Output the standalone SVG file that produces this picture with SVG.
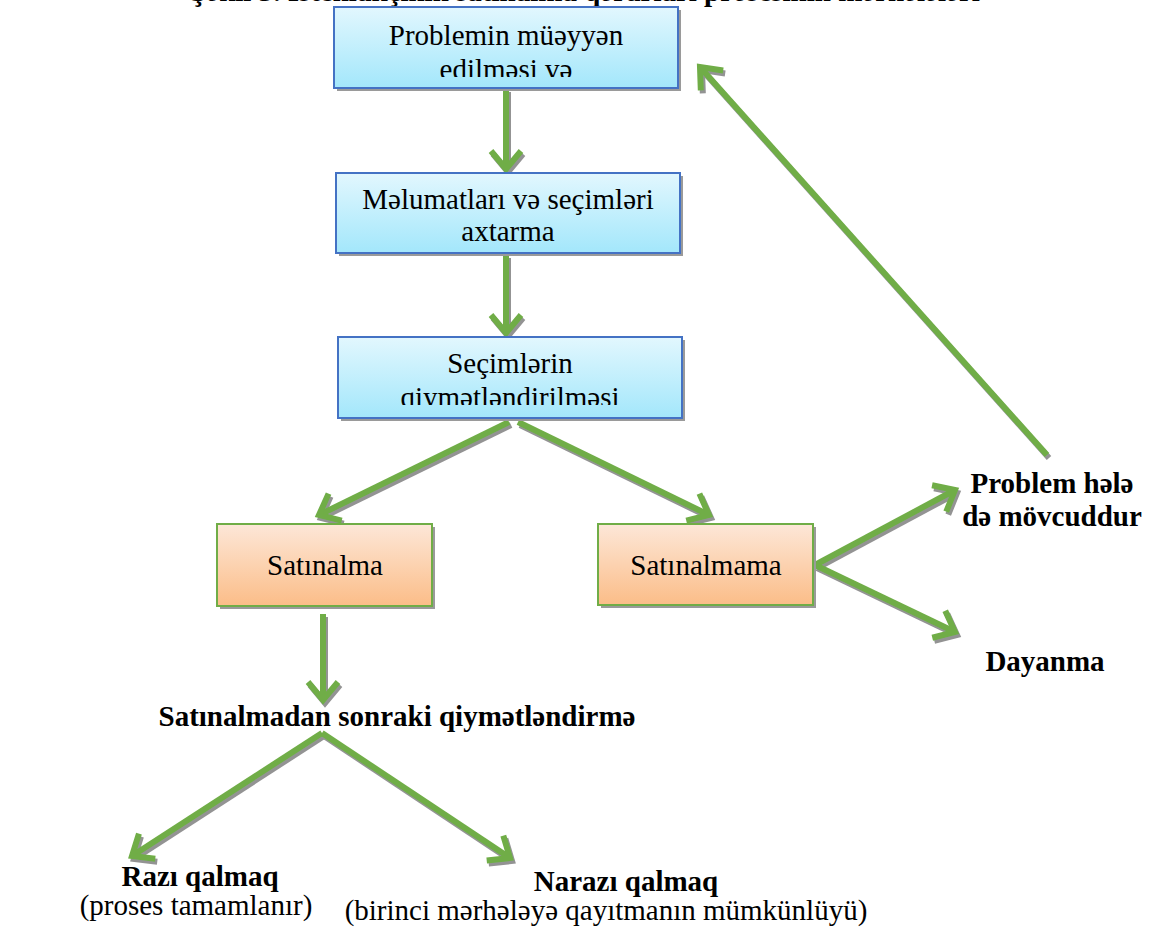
<svg xmlns="http://www.w3.org/2000/svg" width="1155" height="929" viewBox="0 0 1155 929">
<style>
.t{font-family:"Times New Roman","Liberation Serif","DejaVu Serif",serif;font-size:29px;font-weight:400;fill:#000;text-anchor:middle}
.b{font-weight:700}
.blue{fill:url(#gBlue);stroke:#4472c4;stroke-width:2}
.orange{fill:url(#gOrange);stroke:#70ad47;stroke-width:2}
.shadow{fill:#9a9a9a}
.conn{stroke:#70ad47;stroke-width:6;fill:none;marker-end:url(#arr)}
</style>
<defs>
<linearGradient id="gBlue" x1="0" y1="0" x2="0" y2="1">
<stop offset="0" stop-color="#e2f7fe"/><stop offset="1" stop-color="#a3e7fb"/>
</linearGradient>
<linearGradient id="gOrange" x1="0" y1="0" x2="0" y2="1">
<stop offset="0" stop-color="#fde7d8"/><stop offset="1" stop-color="#fbbd88"/>
</linearGradient>
<filter id="sh" x="-10%" y="-10%" width="120%" height="120%">
<feDropShadow dx="2" dy="3" stdDeviation="0.6" flood-color="#777" flood-opacity="0.8"/>
</filter>
<marker id="arr" markerUnits="userSpaceOnUse" markerWidth="40" markerHeight="40" refX="0" refY="0" orient="auto" overflow="visible">
<path d="M-18,-15 L0,0 L-18,15" fill="none" stroke="#70ad47" stroke-width="6" stroke-linejoin="miter"/>
</marker>
<clipPath id="c1"><rect x="334" y="7" width="344" height="70"/></clipPath>
<clipPath id="c3"><rect x="338" y="337" width="344" height="68"/></clipPath>
</defs>
<rect width="1155" height="929" fill="#fff"/>
<text id="title" class="t b" x="585" y="1">Şəkil 3. İstehlakçının satınalma qərarları prosesinin mərhələləri</text>
<g id="connectors" filter="url(#sh)">
<line class="conn" x1="506" y1="89" x2="506" y2="169"/>
<line class="conn" x1="506" y1="255" x2="506" y2="333"/>
<line class="conn" x1="509" y1="422" x2="319" y2="515"/>
<line class="conn" x1="518" y1="422" x2="709" y2="515"/>
<line class="conn" x1="815" y1="565" x2="955" y2="490"/>
<line class="conn" x1="815" y1="565" x2="955" y2="632"/>
<line class="conn" x1="1047" y1="455" x2="700" y2="67"/>
<line class="conn" x1="323" y1="614" x2="323" y2="700"/>
<line class="conn" x1="322" y1="733" x2="132" y2="856"/>
<line class="conn" x1="322" y1="733" x2="510" y2="858"/>
</g>
<g id="n1">
<rect class="shadow" x="337" y="10" width="344" height="81"/>
<rect class="blue" x="334" y="7" width="344" height="81"/>
<g clip-path="url(#c1)"><text class="t" x="506" y="45">Problemin müəyyən</text><text class="t" x="506" y="79">edilməsi və</text></g>
</g>
<g id="n2">
<rect class="shadow" x="339" y="176" width="344" height="80"/>
<rect class="blue" x="336" y="173" width="344" height="80"/>
<text class="t" x="508" y="209">Məlumatları və seçimləri</text>
<text class="t" x="508" y="241">axtarma</text>
</g>
<g id="n3">
<rect class="shadow" x="341" y="340" width="344" height="81"/>
<rect class="blue" x="338" y="337" width="344" height="81"/>
<g clip-path="url(#c3)"><text class="t" x="510" y="373">Seçimlərin</text><text class="t" x="510" y="407">qiymətləndirilməsi</text></g>
</g>
<g id="n4">
<rect class="shadow" x="220" y="527" width="215" height="82"/>
<rect class="orange" x="217" y="524" width="215" height="82"/>
<text class="t" x="325" y="575">Satınalma</text>
</g>
<g id="n5">
<rect class="shadow" x="601" y="527" width="215" height="81"/>
<rect class="orange" x="598" y="524" width="215" height="81"/>
<text class="t" x="706" y="575">Satınalmama</text>
</g>
<g id="n6"><text class="t b" x="1052" y="493">Problem hələ</text><text class="t b" x="1052" y="526">də mövcuddur</text></g>
<g id="n7"><text class="t b" x="1045" y="671">Dayanma</text></g>
<g id="n8"><text class="t b" x="397" y="726">Satınalmadan sonraki qiymətləndirmə</text></g>
<g id="n9"><text class="t b" x="200" y="886">Razı qalmaq</text><text class="t" x="196" y="915">(proses tamamlanır)</text></g>
<g id="n10"><text class="t b" x="626" y="891">Narazı qalmaq</text><text class="t" x="606" y="920">(birinci mərhələyə qayıtmanın mümkünlüyü)</text></g>
</svg>
